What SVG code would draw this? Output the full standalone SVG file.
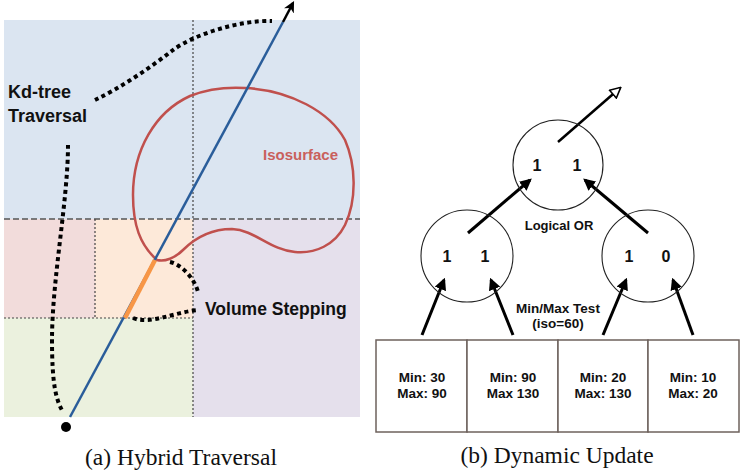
<svg xmlns="http://www.w3.org/2000/svg" width="741" height="475" viewBox="0 0 741 475">
<defs>
<style>
.dots{fill:none;stroke:#000;stroke-width:4;stroke-dasharray:4 3.5}
.grid{fill:none;stroke:#444;stroke-width:1.2;stroke-dasharray:2 2}
.lbl{font-family:"Liberation Sans",Arial,sans-serif;font-weight:bold;fill:#111}
.cap{font-family:"Liberation Serif","Times New Roman",serif;font-size:23.5px;fill:#111}
.node{fill:none;stroke:#222;stroke-width:1.1}
.arr{stroke:#000;stroke-width:3;fill:none;marker-end:url(#ah)}
.box{fill:#fff;stroke:#6e625c;stroke-width:1.5}
.num{font-family:"Liberation Sans",Arial,sans-serif;font-weight:bold;font-size:16px;fill:#111;text-anchor:middle}
.bt{font-family:"Liberation Sans",Arial,sans-serif;font-weight:bold;font-size:13.5px;fill:#111;text-anchor:middle}
</style>
<marker id="ah" viewBox="0 0 10 10" refX="8" refY="5" markerWidth="4" markerHeight="4" orient="auto" markerUnits="strokeWidth">
<path d="M0,0 L10,5 L0,10 Z" fill="#000"/>
</marker>
<marker id="ahOpen" viewBox="0 0 12 12" refX="10" refY="6" markerWidth="5" markerHeight="5" orient="auto" markerUnits="strokeWidth">
<path d="M1,1 L11,6 L1,11 Z" fill="#fff" stroke="#000" stroke-width="1.5"/>
</marker>
<marker id="ahK" viewBox="0 0 10 10" refX="8" refY="5" markerWidth="4.5" markerHeight="4.5" orient="auto" markerUnits="strokeWidth">
<path d="M0,0 L10,5 L0,10 L3,5 Z" fill="#000"/>
</marker>
</defs>

<g id="panel-a">
  <g id="regions">
    <rect x="4" y="20" width="356" height="199" fill="#dbe5f1"/>
    <rect x="4" y="219" width="91" height="99" fill="#f2dcdb"/>
    <rect x="95" y="219" width="98" height="99" fill="#fde9d9"/>
    <rect x="193" y="219" width="167" height="198" fill="#e5e0ec"/>
    <rect x="4" y="318" width="189" height="99" fill="#ebf1de"/>
  </g>
  <g id="grid-lines">
    <line x1="193" y1="20" x2="193" y2="417" class="grid"/>
    <line x1="4" y1="219" x2="360" y2="219" stroke="#555" stroke-width="1.5" stroke-dasharray="6 3"/>
    <line x1="4" y1="318" x2="193" y2="318" class="grid"/>
    <line x1="95" y1="219" x2="95" y2="318" class="grid"/>
  </g>
  <g id="isosurface">
    <path d="M157,260 C140,245 133,225 133,195 C133,150 155,112 190,96 C210,88 228,87 245,88 C290,90 330,112 345,140 C356,165 357,200 345,225 C335,245 315,254 295,252 C270,250 255,230 232,229 C212,229 195,238 183,250 C175,258 165,262 157,260 Z" fill="none" stroke="#c0504d" stroke-width="2.5"/>
    <text x="263" y="160" font-family="Liberation Sans,Arial,sans-serif" font-weight="bold" font-size="15" fill="#c9605c">Isosurface</text>
  </g>
  <g id="ray">
    <line x1="70" y1="417" x2="283" y2="22" stroke="#2a5d9a" stroke-width="2.5"/>
    <line x1="125" y1="318" x2="155" y2="260" stroke="#f79646" stroke-width="4.5"/>
    <line x1="283" y1="22" x2="293" y2="3" stroke="#000" stroke-width="2.5" marker-end="url(#ahK)"/>
    <circle cx="66" cy="427" r="5" fill="#000"/>
  </g>
  <g id="kd-tree-label">
    <path class="dots" d="M95,100 C120,88 150,68 173,50 C195,34 240,20 272,21"/>
    <path class="dots" d="M68,145 C68,200 52,280 52,340 C52,385 56,400 63,412"/>
    <text class="lbl" x="8" y="98" font-size="18">Kd-tree</text>
    <text class="lbl" x="8" y="122" font-size="18">Traversal</text>
  </g>
  <g id="volume-stepping-label">
    <path class="dots" d="M170,262 C183,265 195,280 198,292"/>
    <path class="dots" d="M133,318 C150,325 175,312 198,310"/>
    <text class="lbl" x="205" y="315" font-size="17.5">Volume Stepping</text>
  </g>
  <text class="cap" x="181" y="465" text-anchor="middle">(a) Hybrid Traversal</text>
</g>

<g id="panel-b">
  <g id="connectors">
    <line x1="558" y1="142" x2="620" y2="88" stroke="#000" stroke-width="2.5" marker-end="url(#ahOpen)"/>
    <line class="arr" x1="468" y1="233" x2="530" y2="180"/>
    <line class="arr" x1="648" y1="233" x2="585" y2="180"/>
    <line class="arr" x1="422" y1="335" x2="444" y2="280"/>
    <line class="arr" x1="513" y1="335" x2="491" y2="280"/>
    <line class="arr" x1="603" y1="335" x2="626" y2="280"/>
    <line class="arr" x1="693" y1="335" x2="673" y2="280"/>
  </g>
  <g id="node-root">
    <circle class="node" cx="558" cy="165" r="45"/>
    <text class="num" x="537" y="171">1</text>
    <text class="num" x="577" y="171">1</text>
  </g>
  <g id="node-left">
    <circle class="node" cx="467" cy="256" r="46"/>
    <text class="num" x="447" y="262">1</text>
    <text class="num" x="485" y="262">1</text>
  </g>
  <g id="node-right">
    <circle class="node" cx="648" cy="256" r="46"/>
    <text class="num" x="629" y="262">1</text>
    <text class="num" x="666" y="262">0</text>
  </g>
  <text class="bt" x="559" y="230" style="font-size:13px">Logical OR</text>
  <text class="bt" x="558" y="313">Min/Max Test</text>
  <text class="bt" x="558" y="328">(iso=60)</text>
  <g id="leaf-1">
    <rect class="box" x="376" y="340" width="91" height="92"/>
    <text class="bt" x="422" y="382">Min: 30</text>
    <text class="bt" x="422" y="398">Max: 90</text>
  </g>
  <g id="leaf-2">
    <rect class="box" x="467" y="340" width="91" height="92"/>
    <text class="bt" x="513" y="382">Min: 90</text>
    <text class="bt" x="513" y="398">Max 130</text>
  </g>
  <g id="leaf-3">
    <rect class="box" x="558" y="340" width="90" height="92"/>
    <text class="bt" x="603" y="382">Min: 20</text>
    <text class="bt" x="603" y="398">Max: 130</text>
  </g>
  <g id="leaf-4">
    <rect class="box" x="648" y="340" width="91" height="92"/>
    <text class="bt" x="693" y="382">Min: 10</text>
    <text class="bt" x="693" y="398">Max: 20</text>
  </g>
  <text class="cap" x="557" y="463" text-anchor="middle">(b) Dynamic Update</text>
</g>
</svg>
